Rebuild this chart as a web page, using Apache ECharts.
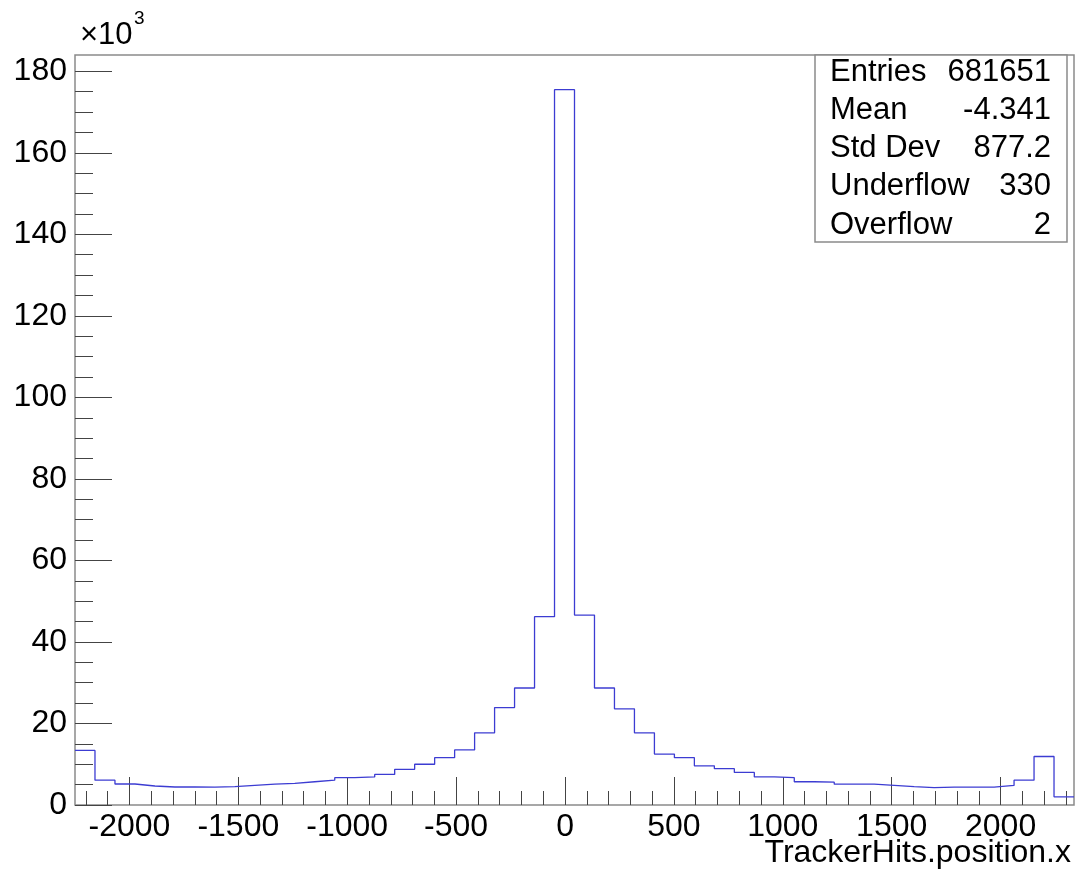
<!DOCTYPE html>
<html>
<head>
<meta charset="utf-8">
<script src="https://cdn.jsdelivr.net/npm/echarts@6/dist/echarts.min.js"></script>
<style>
  html, body { margin: 0; padding: 0; background: #fff; }
  #chart { width: 1079px; height: 871px; }
</style>
</head>
<body>
<div id="chart"></div>
<script>
// histogram binning (TrackerHits.position.x)
const xMin = -2250;
const xMax = 2337;
// bin contents, in units of 10^3 entries
const binValues = [
    13.4, 6.1, 5.15, 4.66, 4.42, 4.42, 4.4, 4.5, 4.8, 5.1,
    5.3, 5.7, 6.1, 6.7, 6.9, 7.5, 8.75, 10.0, 11.6, 13.5,
    17.7, 23.9, 28.7, 46.2, 175.5, 46.6, 28.7, 23.6, 17.7, 12.5,
    11.6, 9.6, 8.9, 8.0, 6.9, 6.7, 5.7, 5.6, 5.1, 5.1,
    4.8, 4.5, 4.25, 4.4, 4.4, 4.4, 4.8, 6.1, 11.9, 2.0
];
const xMajorTicks = [-2000, -1500, -1000, -500, 0, 500, 1000, 1500, 2000];
const xMinorTicks = [];
for (let v = -2200; v <= 2300; v += 100) xMinorTicks.push(v);
const yMajorTicks = [0, 20, 40, 60, 80, 100, 120, 140, 160, 180];
const yMinorTicks = [];
for (let v = 0; v <= 180; v += 5) yMinorTicks.push(v);

const statsLabels = ['Entries', 'Mean', 'Std Dev', 'Underflow', 'Overflow'];
const statsValues = ['681651', '-4.341', '877.2', '330', '2'];

const FONT = '"Liberation Sans", Arial, Helvetica, sans-serif';
const LINE_BLUE = '#3c3cd2';
const FRAME = '#8a8a8a';
const TICK = '#444';

const nBins = binValues.length;
const binWidth = (xMax - xMin) / nBins;
const stepData = binValues.map((v, i) => [xMin + i * binWidth, v]);
stepData.push([xMax, binValues[nBins - 1]]);

const chart = echarts.init(document.getElementById('chart'));

// stats box
const statsGraphics = [{
    type: 'rect',
    shape: { x: 815, y: 55, width: 252, height: 187 },
    style: { fill: '#fff', stroke: FRAME, lineWidth: 1.5 },
    z: 10
}];
statsLabels.forEach((lab, i) => {
    const yc = 72 + i * 38.3;
    statsGraphics.push({
        type: 'text', x: 830, y: yc, z: 11,
        style: { text: lab, font: '31px ' + FONT, fill: '#000', align: 'left', verticalAlign: 'middle' }
    });
    statsGraphics.push({
        type: 'text', x: 1051, y: yc, z: 11,
        style: { text: statsValues[i], font: '31px ' + FONT, fill: '#000', align: 'right', verticalAlign: 'middle' }
    });
});

const tickAxisCommon = {
    type: 'value',
    axisLine: { show: false, onZero: false },
    splitLine: { show: false }
};
const plainNumber = v => String(v);

const option = {
    backgroundColor: '#fff',
    animation: false,
    grid: {
        left: 75, top: 55, width: 999, height: 750,
        show: true, borderColor: FRAME, borderWidth: 1.5,
        backgroundColor: 'transparent',
        outerBoundsMode: 'none'
    },
    xAxis: [
        Object.assign({}, tickAxisCommon, {
            min: xMin, max: xMax, position: 'bottom',
            axisTick: { inside: true, length: 28, customValues: xMajorTicks, lineStyle: { color: TICK, width: 1 } },
            axisLabel: {
                customValues: xMajorTicks, margin: 6, formatter: plainNumber,
                fontFamily: FONT, fontSize: 32, color: '#000'
            }
        }),
        Object.assign({}, tickAxisCommon, {
            min: xMin, max: xMax, position: 'bottom',
            axisTick: { inside: true, length: 14, customValues: xMinorTicks, lineStyle: { color: TICK, width: 1 } },
            axisLabel: { show: false }
        })
    ],
    yAxis: [
        Object.assign({}, tickAxisCommon, {
            min: 0, max: 184, position: 'left',
            axisTick: { inside: true, length: 37, customValues: yMajorTicks, lineStyle: { color: TICK, width: 1 } },
            axisLabel: {
                customValues: yMajorTicks, margin: 8, formatter: plainNumber,
                fontFamily: FONT, fontSize: 32, color: '#000'
            }
        }),
        Object.assign({}, tickAxisCommon, {
            min: 0, max: 184, position: 'left',
            axisTick: { inside: true, length: 18, customValues: yMinorTicks, lineStyle: { color: TICK, width: 1 } },
            axisLabel: { show: false }
        })
    ],
    series: [{
        type: 'line',
        xAxisIndex: 0,
        yAxisIndex: 0,
        step: 'end',
        symbol: 'none',
        data: stepData,
        lineStyle: { color: LINE_BLUE, width: 1.3 },
        z: 5
    }],
    graphic: [
        {
            type: 'text', x: 80, y: 35,
            style: { text: '\u00d710', font: '31px ' + FONT, fill: '#000', align: 'left', verticalAlign: 'middle' }
        },
        {
            type: 'text', x: 134, y: 19,
            style: { text: '3', font: '19px ' + FONT, fill: '#000', align: 'left', verticalAlign: 'middle' }
        },
        {
            type: 'text', x: 1071, y: 853,
            style: { text: 'TrackerHits.position.x', font: '32px ' + FONT, fill: '#000', align: 'right', verticalAlign: 'middle' }
        }
    ].concat(statsGraphics)
};

chart.setOption(option);
</script>
</body>
</html>
